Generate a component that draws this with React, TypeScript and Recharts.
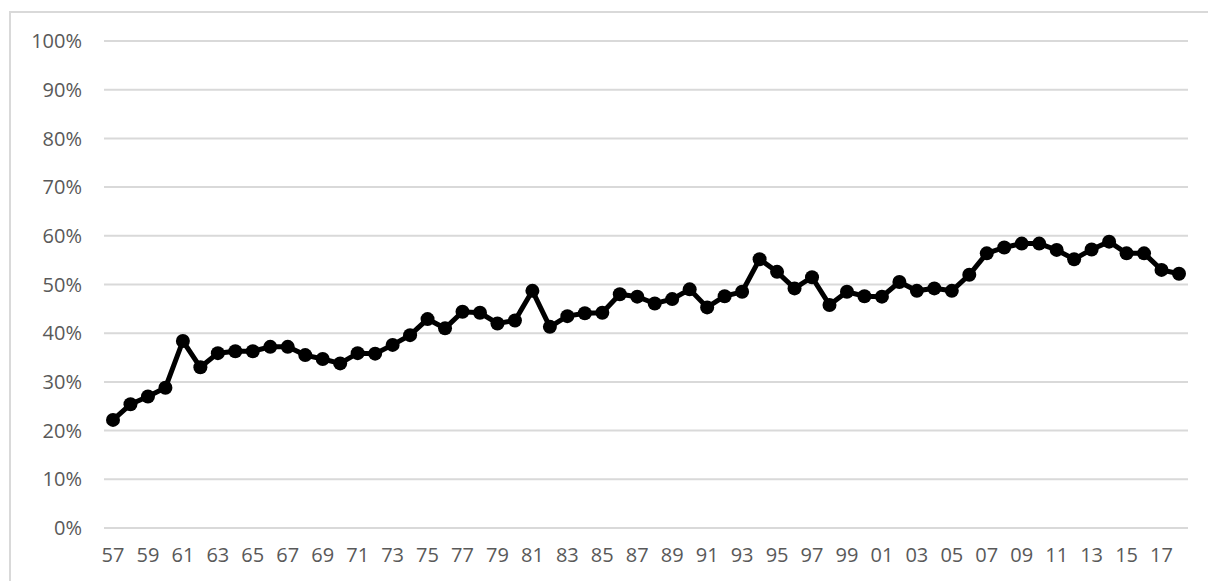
import { CartesianGrid, Line, LineChart, XAxis, YAxis } from "recharts"

const years = [
  "57", "58", "59", "60", "61", "62", "63", "64", "65", "66", "67", "68", "69", "70", "71", "72",
  "73", "74", "75", "76", "77", "78", "79", "80", "81", "82", "83", "84", "85", "86", "87", "88",
  "89", "90", "91", "92", "93", "94", "95", "96", "97", "98", "99", "00", "01", "02", "03", "04",
  "05", "06", "07", "08", "09", "10", "11", "12", "13", "14", "15", "16", "17", "18"
]

const share = [
  22.2, 25.4, 27.0, 28.8, 38.4, 33.0, 35.9, 36.3, 36.3, 37.2, 37.2, 35.5, 34.7, 33.8, 35.9, 35.8,
  37.6, 39.6, 42.9, 41.0, 44.4, 44.2, 42.0, 42.6, 48.7, 41.3, 43.5, 44.1, 44.2, 48.0, 47.5, 46.1,
  47.0, 49.0, 45.3, 47.6, 48.5, 55.2, 52.6, 49.2, 51.5, 45.8, 48.5, 47.6, 47.5, 50.5, 48.7, 49.2,
  48.7, 52.0, 56.4, 57.6, 58.4, 58.4, 57.1, 55.2, 57.2, 58.8, 56.4, 56.4, 53.0, 52.2
]

const yTicks = [0, 10, 20, 30, 40, 50, 60, 70, 80, 90, 100]

const data = years.map((y, i) => ({ year: y, value: share[i] }))

const tickStyle = { fontSize: 20, fill: "#595959", fontFamily: "'Open Sans', sans-serif" }

export default function App() {
  return (
    <>
      <style>{"html, body { overflow: hidden; }"}</style>
      <div
        style={{
          position: "fixed",
          left: 9,
          top: 11,
          width: 1300,
          height: 700,
          borderTop: "2px solid #d9d9d9",
          borderLeft: "2px solid #d9d9d9",
          background: "#fff"
        }}
      >
        <LineChart width={1180} height={566} data={data} margin={{ top: 28, right: 3, left: 0, bottom: 21 }}>
          <CartesianGrid vertical={false} stroke="#d9d9d9" strokeWidth={2} />
          <XAxis
            dataKey="year"
            interval={1}
            axisLine={false}
            tickLine={false}
            tickSize={6}
            tickMargin={14}
            height={30}
            padding={{ left: 9, right: 9 }}
            tick={tickStyle}
          />
          <YAxis
            domain={[0, 100]}
            ticks={yTicks}
            width={93}
            axisLine={false}
            tickLine={false}
            tickSize={6}
            tickMargin={16}
            tickFormatter={(v) => `${v}%`}
            tick={tickStyle}
          />
          <Line
            type="linear"
            dataKey="value"
            stroke="#000"
            strokeWidth={5}
            dot={{ r: 7, fill: "#000", stroke: "#000", strokeWidth: 0 }}
            isAnimationActive={false}
          />
        </LineChart>
      </div>
    </>
  )
}
